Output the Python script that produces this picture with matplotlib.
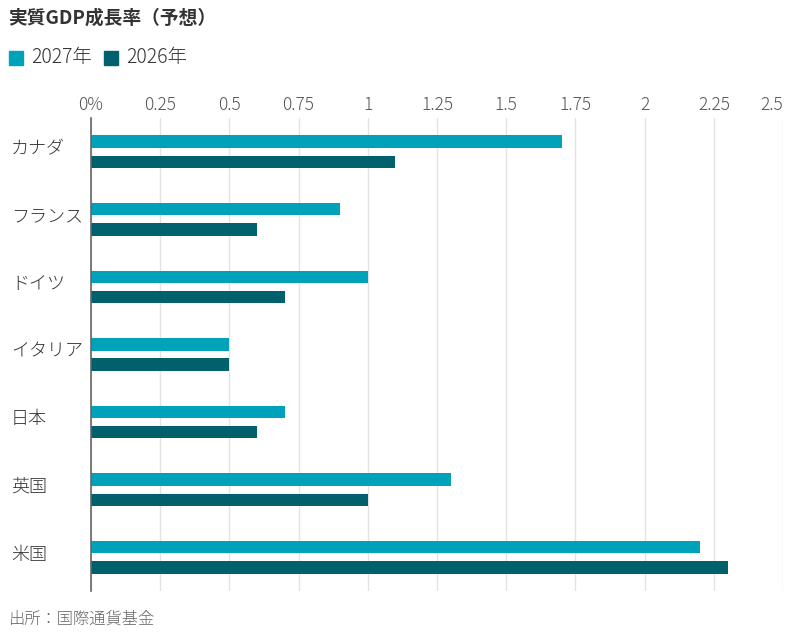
import numpy as np
import matplotlib
matplotlib.use("Agg")
from matplotlib import pyplot as plt
from matplotlib.patches import Rectangle
from matplotlib.transforms import blended_transform_factory

plt.rcParams['font.family'] = ['Noto Sans CJK JP', 'DejaVu Sans']

countries = ["カナダ", "フランス", "ドイツ", "イタリア", "日本", "英国", "米国"]
growth_2027 = [1.7, 0.9, 1.0, 0.5, 0.7, 1.3, 2.2]
growth_2026 = [1.1, 0.6, 0.7, 0.5, 0.6, 1.0, 2.3]
tick_values = [0, 0.25, 0.5, 0.75, 1, 1.25, 1.5, 1.75, 2, 2.25, 2.5]
tick_labels = ["0%", "0.25", "0.5", "0.75", "1", "1.25", "1.5", "1.75", "2", "2.25", "2.5"]

COLOR_2027 = "#00a2ba"
COLOR_2026 = "#00606b"
TEXT = "#333333"

fig = plt.figure(figsize=(7.9, 6.34), dpi=100)
ax = fig.add_axes([91 / 790, 1 - 591 / 634, (783 - 91) / 790, (591 - 118) / 634])

y = np.arange(len(countries))
h = 0.185
off = 0.15
ax.barh(y - off, growth_2027, height=h, color=COLOR_2027, zorder=3)
ax.barh(y + off, growth_2026, height=h, color=COLOR_2026, zorder=3)

ax.set_xlim(0, 2.5)
ax.set_ylim(len(countries) - 0.5, -0.5)
ax.set_xticks(tick_values)
ax.set_xticklabels(tick_labels)
ax.xaxis.tick_top()
ax.tick_params(axis="x", length=0, pad=3, labelsize=12.5, labelcolor="#555555")
for lbl in ax.get_xticklabels():
    lbl.set_fontweight("light")
ax.get_xticklabels()[-1].set_horizontalalignment("right")

# country labels placed at the left edge of the figure
ax.set_yticks([])
trans = blended_transform_factory(fig.transFigure, ax.transData)
for yi, name in zip(y, countries):
    fig.text(11 / 790, yi - 0.04, name, transform=trans, fontsize=13, fontweight="light",
             color=TEXT, va="center", ha="left")

ax.grid(axis="x", color="#e3e3e3", linewidth=1, zorder=0)
for side in ["top", "right", "bottom"]:
    ax.spines[side].set_visible(False)
ax.spines["left"].set_color("#666666")
ax.spines["left"].set_linewidth(1.2)
ax.spines["left"].set_zorder(4)

fig.text(8 / 790, 1 - 18 / 634, "実質GDP成長率（予想）", fontsize=13.5, fontweight="bold",
         color=TEXT, va="center", ha="left")

# legend
fig.patches.append(Rectangle((9 / 790, 1 - 65 / 634), 14 / 790, 14 / 634,
                             transform=fig.transFigure, color=COLOR_2027))
fig.text(31 / 790, 1 - 58 / 634, "2027年", fontsize=14, fontweight="light",
         color=TEXT, va="center", ha="left")
fig.patches.append(Rectangle((104 / 790, 1 - 65 / 634), 14 / 790, 14 / 634,
                             transform=fig.transFigure, color=COLOR_2026))
fig.text(126 / 790, 1 - 58 / 634, "2026年", fontsize=14, fontweight="light",
         color=TEXT, va="center", ha="left")

fig.text(8 / 790, 1 - 619 / 634, "出所：国際通貨基金", fontsize=11.7, fontweight="light",
         color="#666666", va="center", ha="left")

fig.savefig("out.png", dpi=100)
